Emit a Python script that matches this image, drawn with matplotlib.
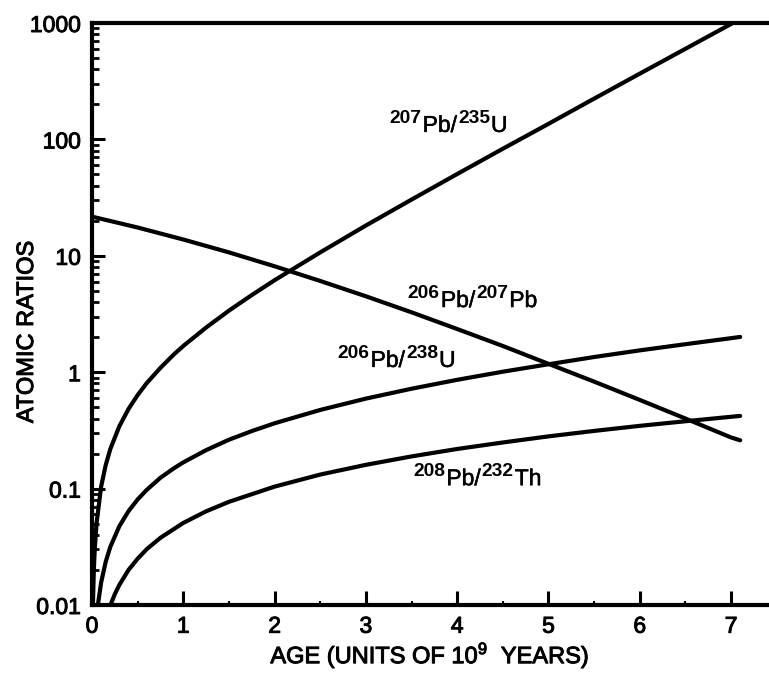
import numpy as np
import matplotlib.pyplot as plt
import matplotlib.patheffects as pe
from matplotlib.transforms import IdentityTransform
from matplotlib.ticker import FixedLocator, LogLocator, NullFormatter

plt.rcParams['font.family'] = ['Liberation Sans', 'DejaVu Sans']
plt.rcParams['mathtext.fontset'] = 'custom'
plt.rcParams['mathtext.rm'] = 'Liberation Sans'

# Valores (edad en 10^9 anios)
t_235 = [0.01, 0.02, 0.03, 0.05, 0.1, 0.15, 0.2, 0.3, 0.4, 0.5, 0.6, 0.75,
         0.9, 1.0, 1.25, 1.5, 1.75, 2.0, 2.5, 3.0, 3.5, 4.0, 4.5, 5.0, 5.5,
         6.0, 6.5, 7.0, 7.02]
r_207_235 = [0.0099, 0.0199, 0.030, 0.0505, 0.104, 0.159, 0.218, 0.344,
             0.483, 0.636, 0.807, 1.09, 1.43, 1.68, 2.42, 3.38, 4.60, 6.17,
             10.7, 18.2, 30.4, 50.4, 83.1, 136, 224, 367, 600, 981, 1000]

t_238 = [0.065, 0.1, 0.15, 0.2, 0.3, 0.4, 0.5, 0.6, 0.75, 0.9, 1.0, 1.25,
         1.5, 1.75, 2.0, 2.5, 3.0, 3.5, 4.0, 4.5, 5.0, 5.5, 6.0, 6.5, 7.0,
         7.1]
r_206_238 = [0.0101, 0.0156, 0.0235, 0.0315, 0.0476, 0.064, 0.0807, 0.0976,
             0.124, 0.150, 0.168, 0.214, 0.263, 0.312, 0.364, 0.474, 0.593,
             0.721, 0.860, 1.01, 1.17, 1.35, 1.54, 1.74, 1.96, 2.01]

t_232 = [0.2, 0.25, 0.3, 0.4, 0.5, 0.6, 0.75, 1.0, 1.25, 1.5, 2.0, 2.5, 3.0,
         3.5, 4.0, 4.5, 5.0, 5.5, 6.0, 6.5, 7.0, 7.1]
r_208_232 = [0.0099, 0.0124, 0.0149, 0.020, 0.025, 0.0302, 0.0378, 0.0507,
             0.0638, 0.077, 0.104, 0.132, 0.160, 0.189, 0.219, 0.249, 0.281,
             0.313, 0.346, 0.379, 0.414, 0.421]

t_207 = [0.0, 0.5, 1.0, 1.5, 2.0, 2.5, 3.0, 3.5, 4.0, 4.5, 5.0, 5.5, 6.0,
         6.5, 7.0, 7.1]
r_206_207 = [21.7, 17.5, 13.8, 10.7, 8.13, 6.08, 4.49, 3.27, 2.35, 1.68,
             1.18, 0.83, 0.578, 0.40, 0.275, 0.26]

x_ticks = [0, 1, 2, 3, 4, 5, 6, 7]
y_ticks = [0.01, 0.1, 1, 10, 100, 1000]
y_labels = ['0.01', '0.1', '1', '10', '100', '1000']

# etiquetas de cada curva: (x, y, [(texto, es_superindice), ...])
etiquetas = [
    (3.26, 116, [('207', True), ('Pb/', False), ('235', True), ('U', False)]),
    (3.46, 3.63, [('206', True), ('Pb/', False), ('207', True), ('Pb', False)]),
    (2.69, 1.11, [('206', True), ('Pb/', False), ('238', True), ('U', False)]),
    (3.52, 0.107, [('208', True), ('Pb/', False), ('232', True), ('Th', False)]),
]

grueso = [pe.withStroke(linewidth=0.7, foreground='black')]
medio = [pe.withStroke(linewidth=0.35, foreground='black')]

fig = plt.figure(figsize=(7.69, 6.73), dpi=100)
ax = fig.add_axes([92/769, 1 - 605/673, 1 - 92/769 + 0.01, (605 - 23)/673])

lw = 3.0
ax.plot(t_235, r_207_235, color='black', lw=lw, solid_capstyle='round')
ax.plot(t_238, r_206_238, color='black', lw=lw, solid_capstyle='round')
ax.plot(t_232, r_208_232, color='black', lw=lw, solid_capstyle='round')
ax.plot(t_207, r_206_207, color='black', lw=lw, solid_capstyle='round')

ax.set_yscale('log')
ax.set_ylim(0.01, 1000)
ax.set_xlim(0, 7.5)

ax.set_xticks(x_ticks)
ax.set_xticklabels([str(x) for x in x_ticks])
ax.xaxis.set_minor_locator(FixedLocator(np.array(x_ticks) + 0.5))
ax.set_yticks(y_ticks)
ax.set_yticklabels(y_labels)
ax.yaxis.set_minor_locator(LogLocator(base=10, subs=np.arange(2, 10)))
ax.yaxis.set_minor_formatter(NullFormatter())

ax.tick_params(axis='both', which='major', direction='in', width=2.2,
               labelsize=16.5, color='black')
ax.tick_params(axis='y', which='major', length=9, pad=8)
ax.tick_params(axis='y', which='minor', direction='in', length=5, width=2.0)
ax.tick_params(axis='x', which='major', length=10, pad=7)
ax.tick_params(axis='x', which='minor', direction='in', length=3, width=1.5)
for lab in ax.get_xticklabels() + ax.get_yticklabels():
    lab.set_path_effects(grueso)

for s in ['left', 'bottom', 'top']:
    ax.spines[s].set_linewidth(3)
ax.spines['right'].set_visible(False)

fig.text(430/769, 1 - 655/673, r'AGE (UNITS OF 10$^{9}$  YEARS)', fontsize=17,
         ha='center', va='center', path_effects=grueso)
fig.text(27/769, 1 - 332/673, 'ATOMIC RATIOS', fontsize=17, rotation=90,
         ha='center', va='center', path_effects=grueso)

# dibujar las etiquetas pieza por pieza (superindices en negrita)
fig.canvas.draw()
rend = fig.canvas.get_renderer()
for x, y, partes in etiquetas:
    px, py = ax.transData.transform((x, y))
    for txt, sup in partes:
        if sup:
            t = fig.text(px, py + 9, txt, fontsize=13.8, fontweight='bold',
                         ha='left', va='baseline', transform=IdentityTransform())
        else:
            t = fig.text(px, py, txt, fontsize=16.5, ha='left', va='baseline',
                         transform=IdentityTransform(), path_effects=medio)
        px += t.get_window_extent(rend).width + 1

fig.savefig('out.png', dpi=100)
